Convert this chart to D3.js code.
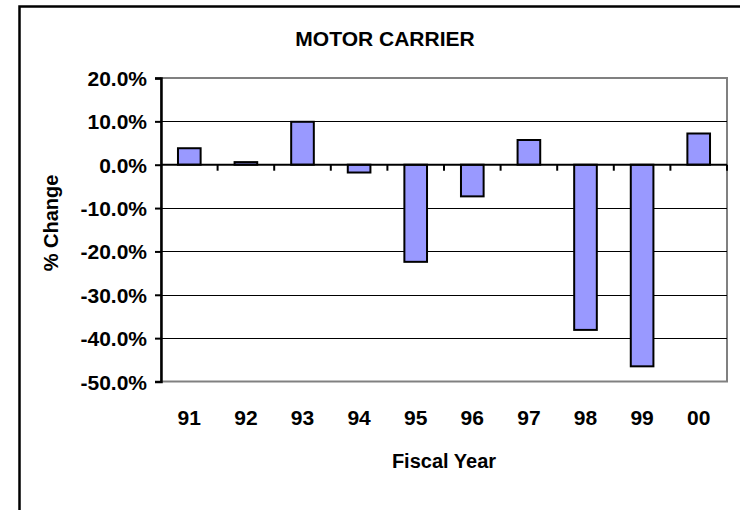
<!DOCTYPE html>
<html>
<head>
<meta charset="utf-8">
<script src="https://cdn.jsdelivr.net/npm/d3@7"></script>
<style>
  body { margin: 0; background: #fff; }
  svg text { font-family: Arial, "Liberation Sans", sans-serif; font-weight: bold; fill: #000; }
</style>
</head>
<body>
<div id="chart"></div>
<script>
var years = ["91", "92", "93", "94", "95", "96", "97", "98", "99", "00"];
var pctChange = [3.8, 0.6, 9.9, -1.8, -22.4, -7.3, 5.7, -38.1, -46.5, 7.2];
var yTicks = [20, 10, 0, -10, -20, -30, -40, -50];

var width = 740, height = 510;
var plotLeft = 161, plotRight = 727, plotTop = 78, plotBottom = 381.5;

var svg = d3.select("#chart").append("svg")
  .attr("width", width)
  .attr("height", height);

// outer chart frame (only left and top edges show in the picture)
svg.append("rect")
  .attr("x", 19.5).attr("y", 6.5)
  .attr("width", 760).attr("height", 560)
  .attr("fill", "none")
  .attr("stroke", "#000")
  .attr("stroke-width", 2.5);

var x = d3.scaleBand().domain(years).range([plotLeft, plotRight]).paddingInner(0.6).paddingOuter(0.3);
var xCat = d3.scaleBand().domain(years).range([plotLeft, plotRight]);
var y = d3.scaleLinear().domain([-50, 20]).range([plotBottom, plotTop]);

// plot area border
svg.append("rect")
  .attr("x", plotLeft).attr("y", plotTop)
  .attr("width", plotRight - plotLeft).attr("height", plotBottom - plotTop)
  .attr("fill", "none")
  .attr("stroke", "#808080")
  .attr("stroke-width", 2);

// gridlines
svg.append("g").selectAll("line")
  .data(yTicks.filter(function(d) { return d < 20 && d > -50 && d !== 0; }))
  .enter().append("line")
  .attr("x1", plotLeft).attr("x2", plotRight)
  .attr("y1", function(d) { return Math.round(y(d)) + 0.5; })
  .attr("y2", function(d) { return Math.round(y(d)) + 0.5; })
  .attr("stroke", "#000")
  .attr("stroke-width", 1);

// bars
svg.append("g").selectAll("rect")
  .data(pctChange)
  .enter().append("rect")
  .attr("x", function(d, i) { return x(years[i]); })
  .attr("width", x.bandwidth())
  .attr("y", function(d) { return y(Math.max(0, d)); })
  .attr("height", function(d) { return Math.abs(y(d) - y(0)); })
  .attr("fill", "#9999ff")
  .attr("stroke", "#000")
  .attr("stroke-width", 2);

// zero line with category ticks
svg.append("line")
  .attr("x1", plotLeft).attr("x2", plotRight)
  .attr("y1", y(0)).attr("y2", y(0))
  .attr("stroke", "#000").attr("stroke-width", 2);
svg.append("g").selectAll("line")
  .data(years)
  .enter().append("line")
  .attr("x1", function(d) { return xCat(d) + xCat.step(); })
  .attr("x2", function(d) { return xCat(d) + xCat.step(); })
  .attr("y1", y(0)).attr("y2", y(0) + 6)
  .attr("stroke", "#000").attr("stroke-width", 2);

// y axis
var yAxis = d3.axisLeft(y)
  .tickValues(yTicks)
  .tickSize(6)
  .tickPadding(8)
  .tickFormat(function(d) { return d.toFixed(1) + "%"; });
var gy = svg.append("g")
  .attr("transform", "translate(" + plotLeft + ",0)")
  .call(yAxis);
gy.select(".domain").attr("stroke", "#000").attr("stroke-width", 2.5);
gy.selectAll(".tick line").attr("stroke", "#000").attr("stroke-width", 2);
gy.selectAll(".tick text")
  .style("font-size", "21px")
  .attr("dy", "0.36em");

// x labels
svg.append("g").selectAll("text")
  .data(years)
  .enter().append("text")
  .attr("x", function(d) { return xCat(d) + xCat.bandwidth() / 2; })
  .attr("y", 425)
  .attr("text-anchor", "middle")
  .style("font-size", "21px")
  .text(function(d) { return d; });

// titles
svg.append("text")
  .attr("x", 385).attr("y", 46)
  .attr("text-anchor", "middle")
  .style("font-size", "21px")
  .text("MOTOR CARRIER");

svg.append("text")
  .attr("x", (plotLeft + plotRight) / 2).attr("y", 468)
  .attr("text-anchor", "middle")
  .style("font-size", "20px")
  .text("Fiscal Year");

svg.append("text")
  .attr("transform", "translate(58,223) rotate(-90)")
  .attr("text-anchor", "middle")
  .style("font-size", "20px")
  .text("% Change");
</script>
</body>
</html>
